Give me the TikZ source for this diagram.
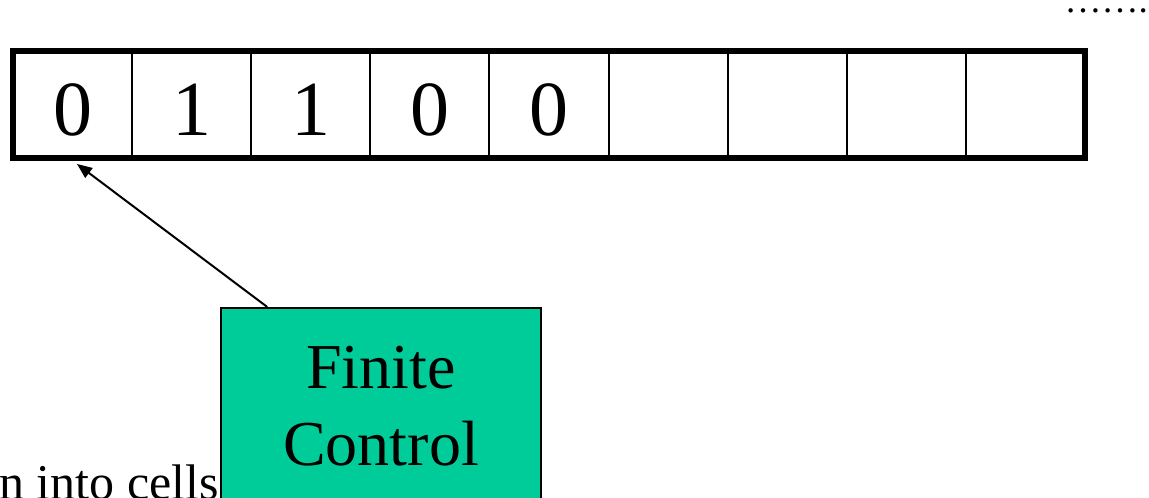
\documentclass[tikz,border=0pt]{standalone}
\usepackage{fontspec}
\setmainfont{Liberation Serif}
\usetikzlibrary{arrows.meta}
\definecolor{ctrlgreen}{RGB}{0,204,153}
\begin{document}
\begin{tikzpicture}[x=1pt,y=-1pt,
  cell/.style={draw,line width=2pt,minimum width=119.1pt,minimum height=107pt,inner sep=0pt,outer sep=0pt},
  digit/.style={anchor=base,inner sep=0pt,font=\fontsize{78}{90}\selectfont},
  ctrlbox/.style={draw,line width=1.5pt,fill=ctrlgreen,minimum width=320pt,minimum height=230pt,anchor=north,inner sep=0pt},
  ctrltext/.style={anchor=base,align=center,inner sep=0pt,font=\fontsize{64}{77}\selectfont},
  caption/.style={anchor=base east,inner sep=0pt,font=\fontsize{50}{60}\selectfont},
  pointer/.style={line width=2pt,-{Triangle[length=15pt,width=12pt]}}]
\useasboundingbox (0,0) rectangle (1149,498);

% caption running in from the left edge, ending against the control box
\node[caption] (cap) at (219,499) {n into cells};

% tape cells
\foreach \i in {1,...,9}{
  \node[cell] (c\i) at ({13+119.1*(\i-0.5)},104.5) {};
}
\draw[line width=5.5pt] (c1.north west) rectangle (c9.south east);

% tape contents
\foreach \i/\d in {1/0,2/1,3/1,4/0,5/0}{
  \node[digit] (d\i) at ([yshift=-30.5pt]c\i.center) {\d};
}

% continuation dots
\node[anchor=base west,inner sep=0pt,font=\fontsize{37}{44}\selectfont] (more) at (1064.5,12) {…….};

% finite control (box runs past the lower edge)
\node[ctrlbox] (ctrl) at (381,307) {};
\node[ctrltext] (ctrllabel) at (381,465) {Finite\\Control};

% head pointer
\coordinate (tail) at ([xshift=47pt]ctrl.north west);
\coordinate (head) at (77,164);
\draw[pointer] (tail) -- (head);
\end{tikzpicture}
\end{document}
